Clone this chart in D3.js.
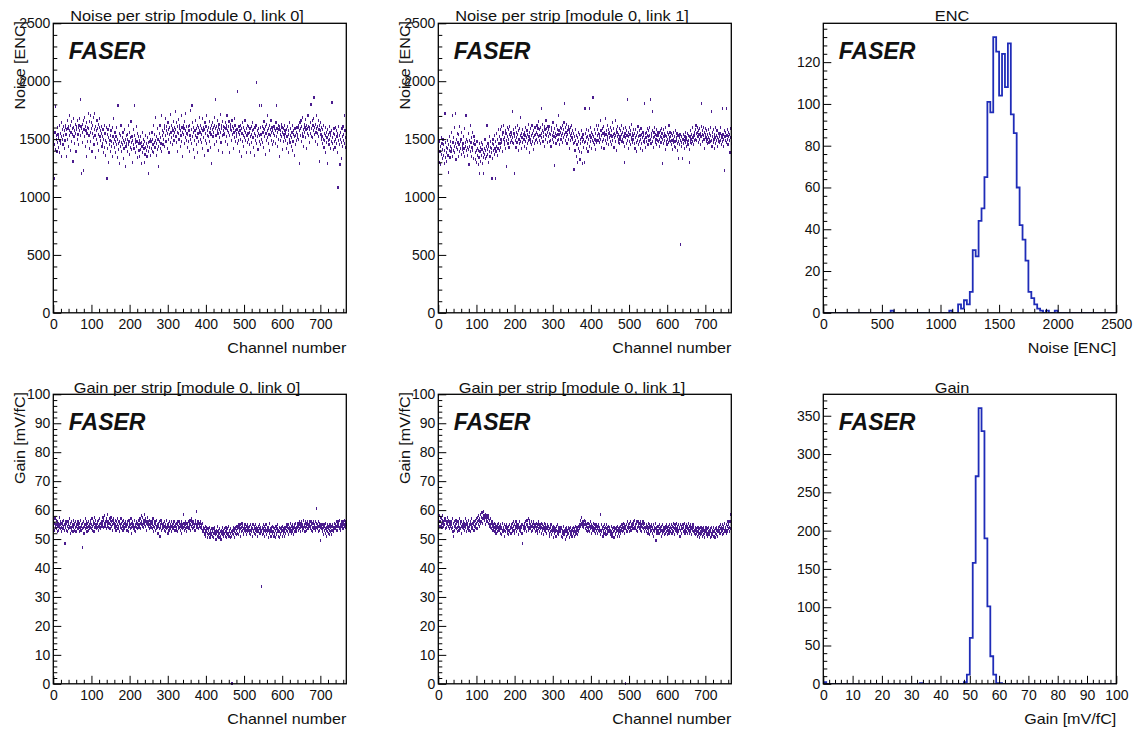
<!DOCTYPE html>
<html><head><meta charset="utf-8">
<script src="https://cdn.jsdelivr.net/npm/d3@7"></script>
<style>html,body{margin:0;padding:0;background:#fff;} svg{display:block;}</style>
</head><body><svg id="c" width="1139" height="733"></svg>
<script>
// ---------------- DATA ----------------
const nChannels = 768;
const channelTicks = [0,100,200,300,400,500,600,700];
const noiseTicks = [0,500,1000,1500,2000,2500];
const gainTicks = [0,10,20,30,40,50,60,70,80,90,100];
const encCountTicks = [0,20,40,60,80,100,120];
const gainCountTicks = [0,50,100,150,200,250,300,350];

const panelTitles = ["Noise per strip [module 0, link 0]","Noise per strip [module 0, link 1]","ENC",
                     "Gain per strip [module 0, link 0]","Gain per strip [module 0, link 1]","Gain"];
const xTitles = ["Channel number","Channel number","Noise [ENC]","Channel number","Channel number","Gain [mV/fC]"];
const yTitles = ["Noise [ENC]","Noise [ENC]","","Gain [mV/fC]","Gain [mV/fC]",""];
const labelText = "FASER";

// noise per channel, link 0 (ENC)
const noiseLink0 = [
1480,1520,1450,1160,1560,1410,1780,1500,1530,1390,1470,1600,1540,1430,1510,1620,1380,1490,1550,1460,1640,1520,1350,1580,1500,1450,1610,1530,1420,1570,1490,1600,
1620,1540,1580,1350,1660,1500,1590,1610,1440,1570,1700,1530,1620,1400,1560,1650,1480,1590,1540,1310,1600,1680,1520,1570,1460,1630,1550,1390,1610,1580,1500,1660,
1540,1600,1450,1620,1570,1680,1840,1530,1610,1590,1200,1470,1630,1560,1660,1230,1580,1520,1690,1440,1610,1570,1350,1640,1550,1600,1480,1720,1590,1530,1650,1420,
1560,1700,1480,1590,1640,1390,1550,1620,1510,1690,1450,1580,1720,1530,1610,1340,1570,1500,1660,1590,1460,1540,1630,1400,1600,1680,1520,1570,1490,1610,1550,1440,
1520,1460,1580,1380,1500,1620,1430,1550,1490,1360,1600,1470,1160,1540,1420,1580,1510,1300,1450,1620,1490,1530,1390,1570,1480,1440,1600,1350,1520,1460,1680,1500,
1430,1560,1480,1380,1520,1450,1600,1340,1500,1790,1460,1410,1550,1480,1290,1530,1440,1620,1470,1390,1510,1450,1560,1330,1490,1420,1580,1470,1260,1500,1440,1530,
1460,1540,1390,1500,1620,1450,1480,1370,1560,1430,1510,1650,1470,1410,1520,1300,1490,1450,1580,1420,1530,1790,1470,1380,1500,1610,1440,1480,1340,1550,1460,1520,
1400,1490,1350,1460,1520,1410,1470,1290,1440,1560,1380,1450,1500,1420,1300,1480,1370,1430,1530,1400,1460,1350,1510,1440,1200,1470,1390,1550,1430,1480,1360,1500,
1480,1420,1560,1390,1500,1450,1620,1380,1470,1540,1430,1690,1490,1360,1520,1460,1590,1410,1500,1440,1260,1550,1480,1620,1420,1510,1460,1700,1390,1530,1570,1450,
1560,1500,1620,1440,1590,1530,1680,1480,1570,1610,1420,1550,1640,1500,1580,1380,1600,1540,1710,1470,1560,1620,1510,1590,1450,1570,1650,1530,1490,1600,1560,1740,
1580,1520,1640,1470,1560,1610,1390,1550,1670,1500,1590,1620,1440,1570,1530,1700,1480,1600,1560,1350,1620,1540,1590,1460,1650,1510,1570,1720,1490,1610,1550,1430,
1540,1610,1480,1570,1390,1620,1530,1750,1500,1460,1580,1790,1520,1640,1410,1560,1600,1490,1340,1570,1530,1660,1450,1590,1510,1620,1380,1550,1600,1480,1570,1690,
1560,1500,1620,1470,1590,1540,1680,1420,1570,1600,1510,1360,1580,1640,1490,1550,1610,1460,1700,1530,1570,1400,1600,1520,1650,1480,1560,1590,1430,1540,1620,1290,
1580,1640,1520,1600,1560,1690,1450,1620,1590,1840,1530,1610,1480,1570,1660,1550,1400,1600,1630,1510,1580,1710,1560,1470,1620,1590,1530,1650,1380,1570,1610,1540,
1600,1550,1640,1480,1590,1620,1520,1700,1570,1450,1610,1560,1650,1530,1380,1600,1580,1630,1490,1570,1660,1540,1610,1420,1590,1560,1680,1510,1620,1570,1480,1550,
1520,1580,1460,1910,1560,1490,1610,1540,1390,1570,1620,1500,1590,1350,1550,1640,1480,1530,1600,1440,1570,1510,1660,1490,1560,1380,1590,1530,1620,1470,1550,1610,
1500,1560,1450,1590,1520,1380,1610,1540,1470,1570,1640,1510,1430,1580,1550,1360,1600,1490,1530,1620,1990,1460,1570,1520,1410,1590,1550,1480,1790,1530,1600,1450,
1540,1790,1500,1610,1470,1560,1590,1430,1650,1520,1580,1370,1610,1550,1490,1630,1570,1510,1700,1460,1590,1540,1620,1400,1580,1530,1660,1490,1560,1600,1450,1570,
1550,1480,1610,1530,1590,1460,1570,1640,1520,1790,1590,1440,1560,1620,1500,1580,1350,1610,1540,1570,1490,1630,1520,1600,1410,1560,1590,1480,1540,1620,1510,1570,
1490,1550,1420,1580,1520,1610,1460,1540,1380,1570,1500,1640,1470,1530,1590,1440,1510,1560,1400,1620,1480,1540,1570,1360,1520,1590,1450,1530,1600,1490,1560,1510,
1540,1600,1500,1620,1570,1290,1640,1530,1590,1660,1480,1610,1550,1690,1520,1580,1440,1630,1560,1600,1510,1670,1580,1420,1620,1550,1590,1700,1530,1610,1470,1580,
1600,1550,1640,1800,1520,1590,1660,1510,1620,1570,1680,1860,1540,1600,1480,1630,1560,1700,1590,1450,1610,1550,1660,1520,1580,1620,1310,1570,1640,1540,1600,1500,
1520,1460,1580,1500,1620,1430,1550,1490,1600,1380,1530,1470,1560,1510,1290,1580,1490,1540,1450,1610,1500,1560,1420,1530,1480,1570,1820,1510,1460,1550,1410,1590,
1480,1540,1430,1600,1500,1460,1570,1520,1380,1550,1080,1490,1610,1450,1530,1280,1500,1560,1470,1330,1590,1520,1440,1610,1490,1540,1700,1460,1570,1510,1430,1550
];

// noise per channel, link 1 (ENC)
const noiseLink1 = [
1350,1420,1300,1480,1390,1440,1280,1510,1370,1460,1330,1410,1500,1360,1450,1290,1400,1720,1340,1470,1380,1430,1310,1490,1420,1360,1210,1450,1400,1520,1340,1440,
1480,1390,1560,1420,1700,1350,1470,1510,1400,1440,1600,1380,1720,1460,1320,1500,1430,1550,1410,1470,1350,1540,1450,1390,1610,1480,1420,1500,1370,1560,1440,1410,
1460,1380,1520,1420,1590,1350,1470,1440,1700,1400,1500,1360,1480,1430,1550,1410,1280,1490,1440,1620,1390,1470,1350,1510,1430,1560,1400,1460,1330,1520,1450,1490,
1380,1320,1450,1400,1300,1480,1360,1420,1280,1400,1340,1460,1200,1390,1430,1310,1470,1360,1410,1290,1450,1380,1340,1200,1420,1370,1500,1330,1400,1440,1350,1620,
1410,1370,1460,1300,1440,1390,1520,1350,1430,1480,1380,1420,1160,1460,1330,1500,1400,1450,1370,1530,1420,1160,1480,1390,1550,1440,1360,1500,1420,1580,1460,1400,
1520,1460,1580,1430,1500,1610,1470,1540,1390,1560,1500,1620,1450,1510,1480,1570,1420,1550,1490,1260,1600,1520,1460,1580,1500,1430,1540,1610,1470,1520,1560,1490,
1540,1470,1740,1510,1580,1460,1550,1200,1520,1490,1600,1430,1560,1510,1470,1620,1540,1400,1570,1500,1460,1590,1530,1690,1480,1550,1420,1510,1580,1470,1540,1500,
1500,1560,1440,1530,1480,1600,1510,1420,1570,1460,1540,1630,1490,1520,1380,1560,1500,1470,1590,1450,1530,1620,1480,1550,1410,1510,1570,1460,1530,1600,1490,1540,
1560,1500,1620,1470,1540,1590,1520,1650,1490,1580,1530,1460,1600,1550,1760,1510,1570,1630,1480,1560,1520,1610,1440,1580,1540,1500,1660,1530,1590,1470,1560,1610,
1520,1580,1480,1550,1610,1490,1540,1440,1570,1600,1500,1530,1640,1470,1560,1520,1270,1590,1510,1550,1460,1620,1530,1490,1580,1540,1700,1500,1570,1450,1540,1600,
1560,1500,1590,1530,1620,1470,1550,1580,1510,1640,1810,1540,1490,1600,1560,1520,1630,1460,1570,1540,1610,1500,1580,1420,1560,1530,1600,1490,1550,1620,1510,1570,
1500,1460,1550,1240,1520,1470,1400,1580,1490,1350,1530,1450,1300,1510,1560,1420,1480,1390,1540,1320,1500,1460,1570,1380,1510,1290,1480,1540,1430,1500,1300,1470,
1760,1480,1550,1420,1510,1580,1460,1520,1390,1570,1500,1760,1440,1530,1480,1600,1510,1420,1560,1490,1540,1860,1470,1520,1450,1580,1500,1410,1550,1490,1620,1470,
1530,1580,1490,1550,1620,1470,1540,1510,1660,1500,1570,1430,1530,1590,1480,1550,1610,1500,1420,1560,1530,1680,1490,1540,1570,1460,1620,1520,1500,1580,1450,1550,
1510,1560,1480,1600,1530,1450,1570,1520,1640,1490,1540,1590,1430,1550,1510,1660,1480,1530,1580,1400,1560,1520,1610,1470,1540,1500,1590,1460,1520,1570,1500,1620,
1540,1480,1560,1500,1470,1590,1520,1440,1300,1550,1600,1510,1460,1570,1530,1840,1490,1560,1420,1520,1600,1480,1540,1570,1450,1510,1630,1500,1550,1470,1530,1580,
1500,1460,1550,1420,1580,1510,1470,1530,1390,1560,1490,1610,1450,1520,1480,1570,1530,1420,1500,1590,1460,1540,1510,1400,1560,1480,1530,1470,1810,1500,1550,1430,
1510,1560,1480,1530,1590,1450,1520,1570,1490,1600,1530,1840,1500,1460,1550,1520,1740,1480,1570,1510,1430,1560,1520,1600,1470,1540,1500,1580,1450,1530,1560,1490,
1530,1480,1560,1500,1440,1570,1520,1470,1590,1510,1550,1290,1500,1460,1580,1520,1490,1550,1410,1530,1600,1480,1520,1450,1560,1500,1470,1540,1620,1490,1510,1560,
1480,1520,1450,1550,1490,1410,1530,1470,1560,1500,1440,1520,1480,1570,1430,1510,1490,1550,1460,1400,1530,1480,1330,1510,1450,1540,1490,590,1470,1520,1440,1500,
1330,1500,1460,1540,1490,1420,1520,1470,1560,1500,1440,1510,1480,1550,1450,1530,1490,1410,1300,1520,1470,1570,1500,1460,1540,1480,1600,1510,1450,1530,1490,1560,
1530,1580,1500,1620,1550,1490,1560,1600,1520,1470,1570,1540,1500,1590,1450,1550,1520,1610,1810,1540,1480,1570,1530,1600,1500,1560,1420,1540,1590,1510,1570,1480,
1500,1540,1460,1580,1510,1470,1550,1500,1600,1480,1530,1740,1490,1440,1560,1520,1470,1580,1500,1420,1540,1510,1600,1460,1530,1490,1570,1510,1440,1550,1500,1480,
1520,1470,1550,1490,1600,1450,1530,1510,1760,1480,1540,1500,1440,1230,1570,1520,1490,1560,1760,1470,1530,1500,1580,1450,1520,1560,1490,1540,1380,1510,1590,1460
];

// gain per channel, link 0 (mV/fC)
const gainLink0 = [
56,54.5,55.5,53,57,55,54,56.5,53.5,55,52.5,56,54.5,55.5,53,57.5,54,55,56,53.5,55.5,54,52.5,56,55,53.5,54.5,56.5,55,53,48.5,55,
54,56,53,55.5,54.5,52.5,56,55,53.5,54,57,54.5,52,55.5,54,56,53,55,54.5,52.5,56.5,54,55,53,55.5,54,56,52.5,55,54.5,53.5,56,
55,53.5,56,54,52.5,55.5,54,56.5,53,55,54.5,47,55.5,53.5,56,54,52,55,54.5,57,53.5,55,54,56,52.5,55.5,54,53,56,54.5,55,53.5,
55.5,54,56.5,53.5,55,57,54.5,53,56,55,52.5,55.5,57.5,54,55,56.5,53.5,55,54,56,55.5,53,56.5,54.5,55,57,54,55.5,53.5,56,55,54.5,
56,55,57.5,54,56.5,55.5,58,54.5,56,55,53.5,57,56,54.5,58.5,55.5,56,54,57,55.5,53.5,56.5,55,57.5,54.5,56,55,53,56.5,55.5,57,54.5,
55.5,54,56.5,55,53,56,54.5,57,55,53.5,56,54.5,55.5,52.5,56,55,54,57,53.5,55.5,54.5,56,53,55,56.5,54,55.5,53.5,56,54.5,55,53,
54.5,56,53,55,54,52.5,56.5,54.5,55.5,53.5,55,57,54,52,55.5,54.5,56,53.5,55,54,56.5,53,55,54.5,52.5,56,54,55.5,53.5,55,54,56.5,
55,56.5,54,57,55.5,53.5,56,58,55,54.5,57.5,55.5,54,56.5,58.5,55,56,54.5,57,55.5,53,56,55,57.5,54.5,56,55.5,53.5,56.5,55,54,56,
55.5,54,56,53.5,55,57,54.5,52.5,55.5,54,56,53,55,54.5,56.5,53.5,55,54,52,55.5,54.5,56,53.5,51,55,54,56.5,53,55.5,54.5,53.5,55,
54,55.5,53,54.5,56,52.5,55,54,53.5,56.5,54,55,52,55.5,54.5,53,56,54,55,53.5,54.5,56,52.5,55,54,53.5,55.5,54,56,53,54.5,55,
54.5,53,55.5,54,56,52.5,55,54.5,53.5,56,54,55.5,53,54.5,55,52,56,54,55,53.5,58.5,54,55.5,53,54.5,56,53.5,55,54,52.5,55.5,54,
55,54,56,53.5,55.5,54.5,56.5,53,55,57,54.5,56,55,53.5,55.5,54,56,55,54.5,53,56.5,55.5,54,59.5,55,56,54,55.5,53.5,56,55,54.5,
55.5,54,56,53.5,55,54.5,53,55.5,52.5,54,53,51.5,53.5,52,54.5,51,53,52.5,54,50.5,52,53.5,51.5,53,52,54,50.5,53,52.5,51.5,53.5,52,
52.5,51,53.5,52,50.5,53,52,54,51.5,52.5,50,53,52,51,54.5,52.5,51.5,53,50.5,52,53.5,51,52.5,50,53,52,51.5,54,52.5,51,53,52,
52,53.5,51,52.5,54,50.5,53,52,51.5,53.5,52,54.5,51,52.5,53,50.5,52,53.5,52.5,51,0,53,52,54,51.5,53,52.5,50.5,53.5,52,54,51.5,
53,54.5,52,53.5,55,51.5,54,53,52.5,55,53.5,51,54,52.5,55.5,53,54.5,52,53.5,51.5,54,53,55,52.5,53.5,54.5,51.5,53,55,52.5,54,53,
53.5,52,54.5,53,51.5,55,53,52.5,54,51,53.5,55,52.5,53,54.5,52,53.5,51.5,55,53,52.5,54,51,53.5,52.5,54.5,53,52,55,53.5,52,54,
53,33.5,52.5,54,51.5,53.5,55,52,53,54.5,51,53.5,52.5,55,53,51.5,54,52.5,53.5,50.5,54,53,52,55.5,52.5,53.5,51,54,53,52.5,54.5,52,
52.5,54,51,53.5,52,50.5,53,54.5,52,51.5,53.5,52.5,55,51,53,52.5,54,50.5,53.5,52,51.5,54,52.5,53,51,54.5,52,53.5,52.5,51,53,54,
53.5,52,54.5,53,55,52.5,54,53.5,51.5,55,53,54,52.5,55.5,53.5,52,54.5,53,55,52.5,54,53.5,51.5,55,54,52.5,53.5,55.5,53,54,52.5,54.5,
54,55.5,53,54.5,56,53.5,55,54,52.5,55.5,54.5,56,53,55,54,56.5,53.5,55,54.5,52.5,56,54,55.5,53,54.5,56,55,53.5,55,54,56,54.5,
55,53.5,54.5,56,53,55,54,52.5,55.5,54,56,53.5,55,54.5,53,56,54,55.5,60.5,53.5,55,54,56,52.5,54.5,55.5,53,54,49.5,55,53.5,54.5,
53.5,55,52.5,54,51.5,55,53,54.5,52,53.5,55.5,53,51,54,52.5,55,53.5,52,54.5,51.5,53,55,52.5,54,53,51.5,54.5,53,55,52.5,54,53.5,
54,55.5,53.5,55,54,56,53,54.5,55.5,53,56,54.5,55,53.5,56.5,54,55,53,55.5,54.5,56,54,55,53.5,56,55,54.5,56.5,55,54,56,55
];

// gain per channel, link 1 (mV/fC)
const gainLink1 = [
57,55.5,58,56,54.5,57.5,56,55,57,54,56.5,58,55.5,56,54.5,57,55,56.5,53.5,57,55.5,56,54,57.5,55,56,54.5,56.5,55,53.5,56,55,
54.5,56,53.5,55,57,54,52.5,55.5,51,54.5,56,53,55,54,56.5,53.5,55.5,54,52.5,56,54.5,55,53,57,54,55.5,53.5,56,54.5,52,55,54,
55,53.5,56,54.5,55.5,53,57,54,55,52.5,56,54.5,53.5,55.5,54,56.5,53,55,54.5,56,52.5,55,54,57,53.5,55.5,54,56,55,53,54.5,56,
55,56.5,54,57,55.5,53.5,57.5,56,55,58,56.5,54.5,57,56,58.5,55.5,57.5,56,59,57,55.5,58,57,59.5,56.5,58,57.5,55,58.5,57,56,58,
57.5,56,58,55.5,57,54.5,56.5,55,57,54,56,53.5,55.5,54.5,56,53,55,54,52.5,55.5,54,53,55,52,54.5,53.5,55,52.5,54,53,55.5,53.5,
53,54.5,52,55,53.5,51.5,54,53,55.5,52.5,54,53.5,51,55,53,54.5,52.5,54,53.5,55,52,54,53,51.5,54.5,53,55,52.5,54,53.5,52,55,
54,52.5,55.5,53.5,54.5,56,53,55,52,54.5,53.5,56,54,52.5,55,53.5,54.5,51.5,55,54,53,56,52.5,54.5,53.5,55,54,52,48.5,55,53.5,54.5,
54.5,53,55.5,54,56,53.5,55,52.5,56.5,54.5,55,53,57,54,55.5,56.5,53.5,55,54,52.5,56,54.5,55,53,55.5,54,56,53.5,55,54.5,52.5,55,
54,55.5,53,54.5,52,55,53.5,56,54,52.5,55,53.5,54.5,52,55.5,54,53,55,53.5,51.5,54.5,53,55.5,54,52.5,55,53.5,54,52,55,53.5,54.5,
53,54.5,52,53.5,51,54,52.5,55,53,51.5,54,52.5,53.5,50.5,54.5,53,52,54,52.5,53.5,51,54.5,53,52,55,52.5,53.5,51.5,54,53,52.5,54,
52.5,53.5,51,54,52,50.5,53,52.5,54.5,51.5,53,52,50,53.5,52.5,54,51,53,52.5,51.5,54,52,53.5,50.5,53,52.5,51.5,54,52,53,51,53.5,
53,52,54,52.5,51,53.5,52.5,54.5,51.5,53,52,54,53,51.5,54.5,53,52.5,54,53.5,55,54.5,56.5,55,57.5,55.5,56,54.5,56,55,54,56.5,55,
55,53.5,56,54.5,53,55,54,52.5,55.5,54,53,55,52.5,54.5,53.5,56,54,52,55,53.5,54.5,53,55.5,54,52.5,55,53.5,54,52,55,53,54.5,
53.5,52,54.5,53,55,52.5,54,53.5,51.5,58.5,53,55,52.5,54,53.5,51,54.5,53,52,55,53.5,52.5,54,51.5,53.5,55,52,54,53,52.5,54.5,53,
52.5,54,51.5,53,52,54.5,52.5,51,53.5,52,54,52.5,50.5,53,54,52,53.5,51.5,54,52.5,53,51,54.5,52,53.5,52.5,51,54,53,52,54.5,53,
53.5,55,52.5,54,53,55.5,54,52,55,53.5,0,54.5,53,55,52.5,54,56,53.5,55,54,52.5,55.5,54,53,56,54.5,53,55,54,55.5,53.5,56,
55,54,56.5,53.5,55,54.5,56,53,55.5,54,52.5,56,54.5,55,53.5,55.5,54,56,53,55,54.5,52.5,55.5,54,56,53.5,55,54,52.5,55.5,54,53.5,
54,52.5,55,53.5,54.5,52,55.5,53,54,51.5,55,53.5,52.5,54.5,53,55,52,54,53.5,51,55,53,54,52.5,55.5,53.5,49.5,54,53,52,54.5,53,
53,54.5,52,53.5,55,52.5,54,53,51,54.5,53,52,55,53.5,52.5,54,51.5,53,54.5,52,53.5,55,52.5,54,53,51.5,54.5,53,52,55,53.5,52.5,
54,52.5,55,53.5,52,54.5,53,55.5,52.5,54,53.5,51.5,55,53,54,52.5,55.5,53.5,52,54.5,53,55,52.5,54,53.5,51,55,53,54.5,52,53.5,55,
53.5,55,52.5,54,53,55.5,52,54.5,53.5,52.5,55,54,52,54.5,53.5,55.5,53,52,54.5,53,55,52.5,54,53.5,51.5,54,53,55,52.5,54,53,52,
52.5,54,51.5,53,52,53.5,51,52.5,54,51.5,53,52,50.5,53.5,52.5,51.5,54,52,53,51,53.5,52.5,54,51.5,53,52,50.5,53.5,52.5,54,51.5,53,
52,53.5,51,52.5,54,51.5,53,52,50.5,53.5,52.5,51,54,52,53,51.5,52.5,54,51,53,52.5,50.5,53.5,52,54,51.5,53,52.5,51,54,52.5,53,
53,54.5,52,53.5,55,52.5,54,53,51.5,55,53.5,52,54.5,53,55.5,52.5,54,53.5,52,55,53,54.5,52.5,56,53.5,55,52.5,54,56,53.5,58.5,55
];

// ENC histogram (bin lower edge, entries); bin width 25 ENC, range 0-2500
const encBinLow   = [575,1075,1150,1175,1200,1225,1250,1275,1300,1325,1350,1375,1400,1425,1450,1475,1500,1525,1550,1575,1600,1625,1650,1675,1700,1725,1750,1775,1800,1825,1850,1900,1975];
const encBinCount = [1,1,4,2,6,4,10,30,27,44,50,65,101,96,132,125,104,124,108,129,95,86,60,42,35,25,10,7,4,2,1,1,1];
// Gain histogram (bin lower edge, entries); bin width 1 mV/fC, range 0-100
const gainBinLow   = [0,33,48,49,50,51,52,53,54,55,56,57,58,59,60];
const gainBinCount = [2,1,2,12,60,158,271,360,330,190,101,36,12,1,1];

// ---------------- DRAWING ----------------
const svg = d3.select("#c");
const FONT = "'Liberation Sans', Arial, Helvetica, sans-serif";
const INK = "#111";
const SCATTER = "#4a1c8e";
const HISTLINE = "#1f2cb8";
const SX = 1.15;
const TICKFS = 14, TICKSX = 1.0;

const colX = [53.3, 438.3, 823.3];
const rowY = [23.3, 394.3];
const PW = 293, PH = 289.5;
const titleCX = [187, 572, 952];
const titleBase = [20.5, 393];

function stext(parent, x, y, str, o) {
  const t = parent.append("text")
    .attr("transform", `translate(${x},${y})` + (o.rot ? ` rotate(${o.rot})` : "") + ` scale(${o.sx || SX},1)`)
    .attr("text-anchor", o.anchor || "start")
    .attr("font-family", FONT)
    .attr("font-size", o.size || 14)
    .attr("fill", INK)
    .text(str);
  if (o.weight) t.attr("font-weight", o.weight);
  if (o.style) t.attr("font-style", o.style);
  return t;
}

function minorValues(domain, step, majors) {
  const out = [];
  for (let v = domain[0]; v <= domain[1] + 1e-9; v += step) {
    const r = Math.round(v * 1000) / 1000;
    if (!majors.some(m => Math.abs(m - r) < 1e-6)) out.push(r);
  }
  return out;
}

function styleAxis(ax) {
  ax.select(".domain").remove();
  ax.selectAll("line").attr("stroke", "#000").attr("stroke-width", 1);
  ax.selectAll("text").attr("font-family", FONT).attr("font-size", TICKFS).attr("fill", INK);
}

const defs = svg.append("defs");

function panel(idx, cfg) {
  const col = idx % 3, row = Math.floor(idx / 3);
  const x0 = colX[col], y0 = rowY[row];
  const g = svg.append("g").attr("transform", `translate(${x0},${y0})`);
  const x = d3.scaleLinear().domain(cfg.xDomain).range([0, PW]);
  const y = d3.scaleLinear().domain(cfg.yDomain).range([PH, 0]);

  defs.append("clipPath").attr("id", "clip" + idx)
    .append("rect").attr("x", 0).attr("y", 0).attr("width", PW).attr("height", PH);

  // data
  if (cfg.points) {
    g.append("g").attr("shape-rendering", "crispEdges")
      .selectAll("rect").data(cfg.points).join("rect")
      .attr("x", (d, i) => x(i + 0.5) - 0.6)
      .attr("y", d => y(d) - 1.5)
      .attr("width", 1.2).attr("height", 3)
      .attr("fill", SCATTER);
  }
  if (cfg.hist) {
    const h = cfg.hist;
    const nb = Math.round((cfg.xDomain[1] - cfg.xDomain[0]) / h.width);
    const full = new Array(nb).fill(0);
    h.lows.forEach((lo, k) => { full[Math.round((lo - cfg.xDomain[0]) / h.width)] = h.counts[k]; });
    const pts = [];
    full.forEach((c, b) => {
      const lo = cfg.xDomain[0] + b * h.width;
      pts.push([x(lo), y(c)], [x(lo + h.width), y(c)]);
    });
    g.append("path").attr("d", d3.line()(pts)).attr("fill", "none")
      .attr("clip-path", `url(#clip${idx})`)
      .attr("stroke", HISTLINE).attr("stroke-width", 1.8).attr("stroke-linejoin", "miter");
  }

  // axes: bottom
  const axB = g.append("g").attr("transform", `translate(0,${PH})`)
    .call(d3.axisBottom(x).tickValues(cfg.xMajor).tickSizeInner(-8).tickSizeOuter(0).tickPadding(5.8).tickFormat(d3.format("d")));
  styleAxis(axB);
  axB.selectAll("text").attr("transform", `scale(${TICKSX},1)`);
  const axBm = g.append("g").attr("transform", `translate(0,${PH})`)
    .call(d3.axisBottom(x).tickValues(minorValues(cfg.xDomain, cfg.xMinor, cfg.xMajor)).tickSizeInner(-4).tickSizeOuter(0).tickFormat(""));
  styleAxis(axBm);
  // axes: left
  const axL = g.append("g")
    .call(d3.axisLeft(y).tickValues(cfg.yMajor).tickSizeInner(-8).tickSizeOuter(0).tickPadding(3).tickFormat(d3.format("d")));
  styleAxis(axL);
  axL.selectAll("text").attr("transform", `scale(${TICKSX},1)`);
  const axLm = g.append("g")
    .call(d3.axisLeft(y).tickValues(minorValues([cfg.yDomain[0], cfg.yDomain[1]], cfg.yMinor, cfg.yMajor)).tickSizeInner(-4).tickSizeOuter(0).tickFormat(""));
  styleAxis(axLm);

  // frame
  g.append("rect").attr("x", 0).attr("y", 0).attr("width", PW).attr("height", PH)
    .attr("fill", "none").attr("stroke", "#000").attr("stroke-width", 1.3);

  // texts
  stext(svg, titleCX[col], titleBase[row], panelTitles[idx], { anchor: "middle", size: 14, sx: 1.17 });
  stext(g, PW, PH + 40, xTitles[idx], { anchor: "end", size: 14 });
  if (yTitles[idx]) stext(g, -28.3, -2.3, yTitles[idx], { anchor: "end", size: 14, rot: -90 });
  stext(g, 15.5, 36, labelText, { size: 23, sx: 1, weight: "bold", style: "italic" });
}

const encMax = d3.max(encBinCount) * 1.05;
const gainHistMax = d3.max(gainBinCount) * 1.05;

panel(0, { points: noiseLink0, xDomain: [0, nChannels], yDomain: [0, 2500], xMajor: channelTicks, xMinor: 20, yMajor: noiseTicks, yMinor: 100 });
panel(1, { points: noiseLink1, xDomain: [0, nChannels], yDomain: [0, 2500], xMajor: channelTicks, xMinor: 20, yMajor: noiseTicks, yMinor: 100 });
panel(2, { hist: { lows: encBinLow, counts: encBinCount, width: 25 }, xDomain: [0, 2500], yDomain: [0, encMax], xMajor: noiseTicks, xMinor: 100, yMajor: encCountTicks, yMinor: 4 });
panel(3, { points: gainLink0, xDomain: [0, nChannels], yDomain: [0, 100], xMajor: channelTicks, xMinor: 20, yMajor: gainTicks, yMinor: 2 });
panel(4, { points: gainLink1, xDomain: [0, nChannels], yDomain: [0, 100], xMajor: channelTicks, xMinor: 20, yMajor: gainTicks, yMinor: 2 });
panel(5, { hist: { lows: gainBinLow, counts: gainBinCount, width: 1 }, xDomain: [0, 100], yDomain: [0, gainHistMax], xMajor: gainTicks, xMinor: 2, yMajor: gainCountTicks, yMinor: 10 });
</script>
</body></html>
